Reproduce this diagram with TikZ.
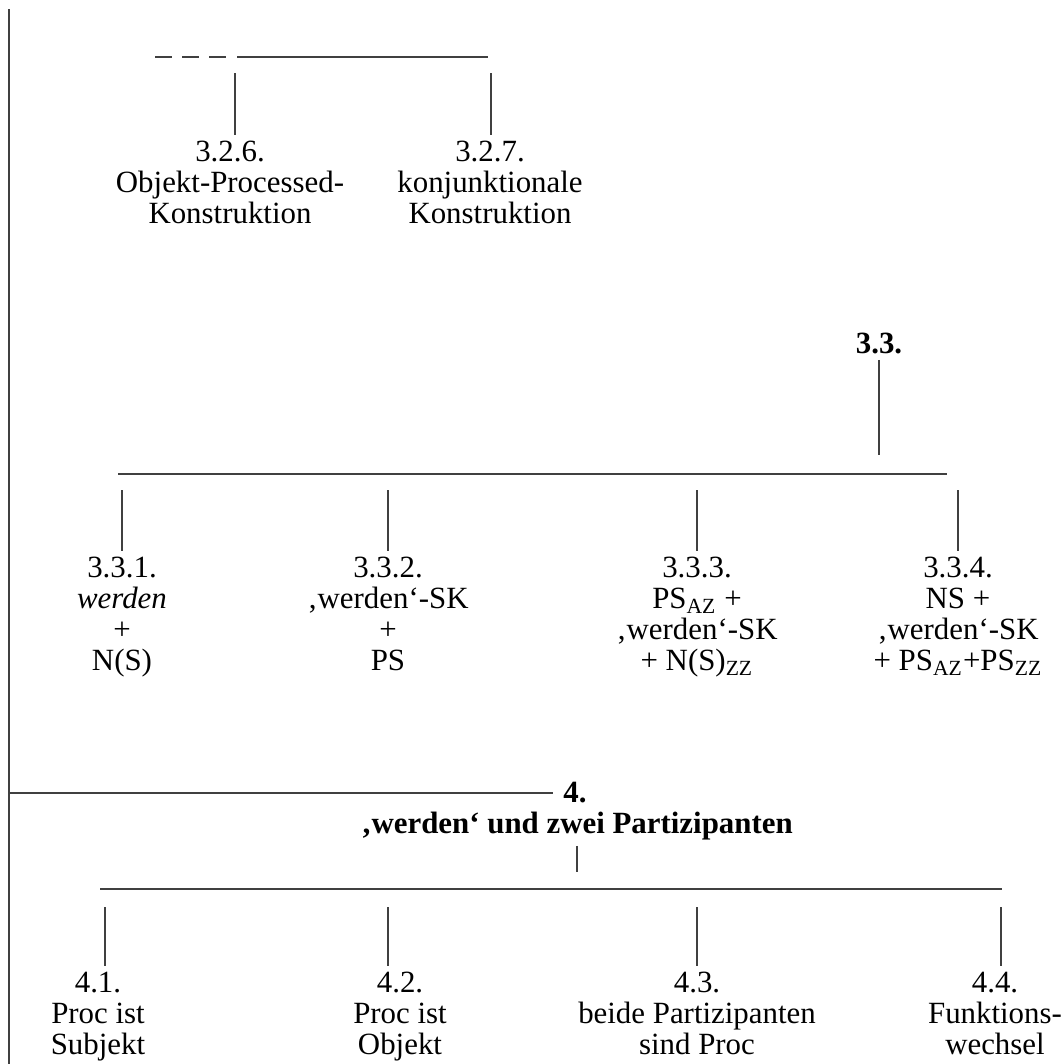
\documentclass[tikz,border=0pt]{standalone}
\usepackage{fontspec}
\setmainfont{Liberation Serif}
\usetikzlibrary{positioning}
\tikzstyle{rule}=[line width=0.55pt, draw=black!75]
\tikzstyle{lbl}=[inner xsep=0pt, inner ysep=2.5pt, align=center, font=\fontsize{13}{13.05}\selectfont]

\begin{document}
\begin{tikzpicture}[x=0.421pt,y=-0.421pt]
\useasboundingbox (0,0) rectangle (1061,1064);
\draw[rule] (9,9) coordinate (lt) -- (9,1064) coordinate (lb);

\draw[rule, dash pattern=on 7.16pt off 4.21pt] (155,57) coordinate (d0) -- (227,57) coordinate (d1);
\draw[rule] (237,57) coordinate (s0) -- (488,57) coordinate (s1);
\node[lbl, anchor=north] (l326) at (230,135) {3.2.6.\\Objekt-Processed-\\Konstruktion};
\node[lbl, anchor=north] (l327) at (490,135) {3.2.7.\\konjunktionale\\Konstruktion};
\draw[rule] (235,73) coordinate (t326) -- (t326 |- l326.north);
\draw[rule] (491,73) coordinate (t327) -- (t327 |- l327.north);

\node[lbl, anchor=base] (n33) at (879,353) {\textbf{3.3.}};
\draw[rule] (n33) -- (879,455) coordinate (j33);
\draw[rule] (118,474) coordinate (b33w) -- (947,474) coordinate (b33e);
\node[lbl, anchor=north] (l331) at (122,551) {3.3.1.\\\textit{werden}\\+\\N(S)};
\node[lbl, anchor=north] (l332) at (388,551) {3.3.2.\\‚werden‘-SK\\+\\PS};
\node[lbl, anchor=north] (l333) at (697,551) {3.3.3.\\PS\textsubscript{AZ} +\\‚werden‘-SK\\+ N(S)\textsubscript{ZZ}};
\node[lbl, anchor=north] (l334) at (958,551) {3.3.4.\\NS +\\‚werden‘-SK\\+ PS\textsubscript{AZ}+PS\textsubscript{ZZ}};
\foreach \x/\n in {122/l331, 388/l332, 697/l333, 958/l334}
  \draw[rule] (\x,490) coordinate (t\n) -- (t\n |- \n.north);

\node[lbl, anchor=west, inner xsep=4.2pt] (n4) at (553,793) {\textbf{4.}};
\draw[rule] (9,793) coordinate (l4) -- (n4);
\node[lbl, anchor=base] (w4) at (577,833) {\textbf{‚werden‘ und zwei Partizipanten}};
\draw[rule] (w4) -- (577,872) coordinate (j4);
\draw[rule] (100,889) coordinate (b4w) -- (1002,889) coordinate (b4e);
\node[lbl, anchor=north] (l41) at (98,966) {4.1.\\Proc ist\\Subjekt};
\node[lbl, anchor=north] (l42) at (400,966) {4.2.\\Proc ist\\Objekt};
\node[lbl, anchor=north] (l43) at (697,966) {4.3.\\beide Partizipanten\\sind Proc};
\node[lbl, anchor=north] (l44) at (995,966) {4.4.\\Funktions-\\wechsel};
\foreach \x/\n in {105/l41, 388/l42, 697/l43, 1001/l44}
  \draw[rule] (\x,907) coordinate (t\n) -- (t\n |- \n.north);
\end{tikzpicture}
\end{document}
